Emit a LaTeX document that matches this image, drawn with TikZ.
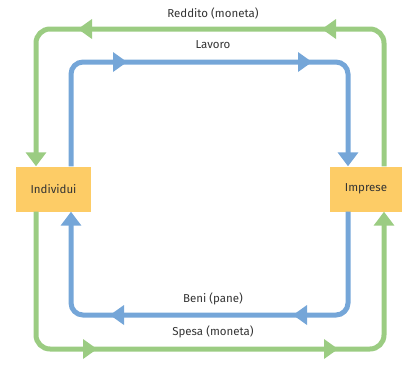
\documentclass[tikz,border=0pt]{standalone}
\usepackage{fontspec}
\setmainfont{Fira Sans}
\usetikzlibrary{arrows.meta}
\definecolor{gr}{HTML}{9BCC82}
\definecolor{bl}{HTML}{75A6D8}
\definecolor{bx}{HTML}{FDCC66}
\definecolor{tx}{HTML}{333333}
% mid-path triangles: tip at (#2,#3)
\newcommand\tipleft[3]{\fill[#1] (#2,#3) -- ++(14,-10) -- ++(0,20) -- cycle;}
\newcommand\tipright[3]{\fill[#1] (#2,#3) -- ++(-14,-10) -- ++(0,20) -- cycle;}
\tikzset{
  box/.style={fill=bx, minimum height=45pt, inner sep=0pt, text=tx, font=\fontsize{11.5}{13}\selectfont},
  gline/.style={draw=gr, line width=5pt, rounded corners=14pt, -{Triangle[length=14pt,width=20pt]}},
  bline/.style={draw=bl, line width=5pt, rounded corners=12pt, -{Triangle[length=14pt,width=20pt]}},
  lbl/.style={text=tx, font=\fontsize{11.5}{13}\selectfont, inner sep=0pt},
}
\begin{document}
\begin{tikzpicture}[x=1pt,y=-1pt]
\useasboundingbox (0,0) rectangle (404,368);
\node[box, minimum width=75pt] (ind) at (53.5,189) {Individui};
\node[box, minimum width=72pt] (imp) at (366,189) {Imprese};
% Reddito (green, top)
\draw[gline] ([xshift=18pt]imp.north) |- (36,29) -- ([xshift=-17.5pt]ind.north);
\tipleft{gr}{322}{29}
\tipleft{gr}{78}{29}
% Lavoro (blue, top)
\draw[bline] ([xshift=17.5pt]ind.north) |- (348,62) -- ([xshift=-18pt]imp.north);
\tipright{bl}{127}{62}
\tipright{bl}{312}{62}
% Beni (blue, bottom)
\draw[bline] ([xshift=-18pt]imp.south) |- (71,315) -- ([xshift=17.5pt]ind.south);
\tipleft{bl}{293}{315}
\tipleft{bl}{110}{315}
% Spesa (green, bottom)
\draw[gline] ([xshift=-17.5pt]ind.south) |- (384,349) -- ([xshift=18pt]imp.south);
\tipright{gr}{97}{349}
\tipright{gr}{338}{349}
\node[lbl] (reddito) at (213,13) {Reddito (moneta)};
\node[lbl] (lavoro) at (213,45) {Lavoro};
\node[lbl] (beni) at (213,299) {Beni (pane)};
\node[lbl] (spesa) at (213,332) {Spesa (moneta)};
\end{tikzpicture}
\end{document}
